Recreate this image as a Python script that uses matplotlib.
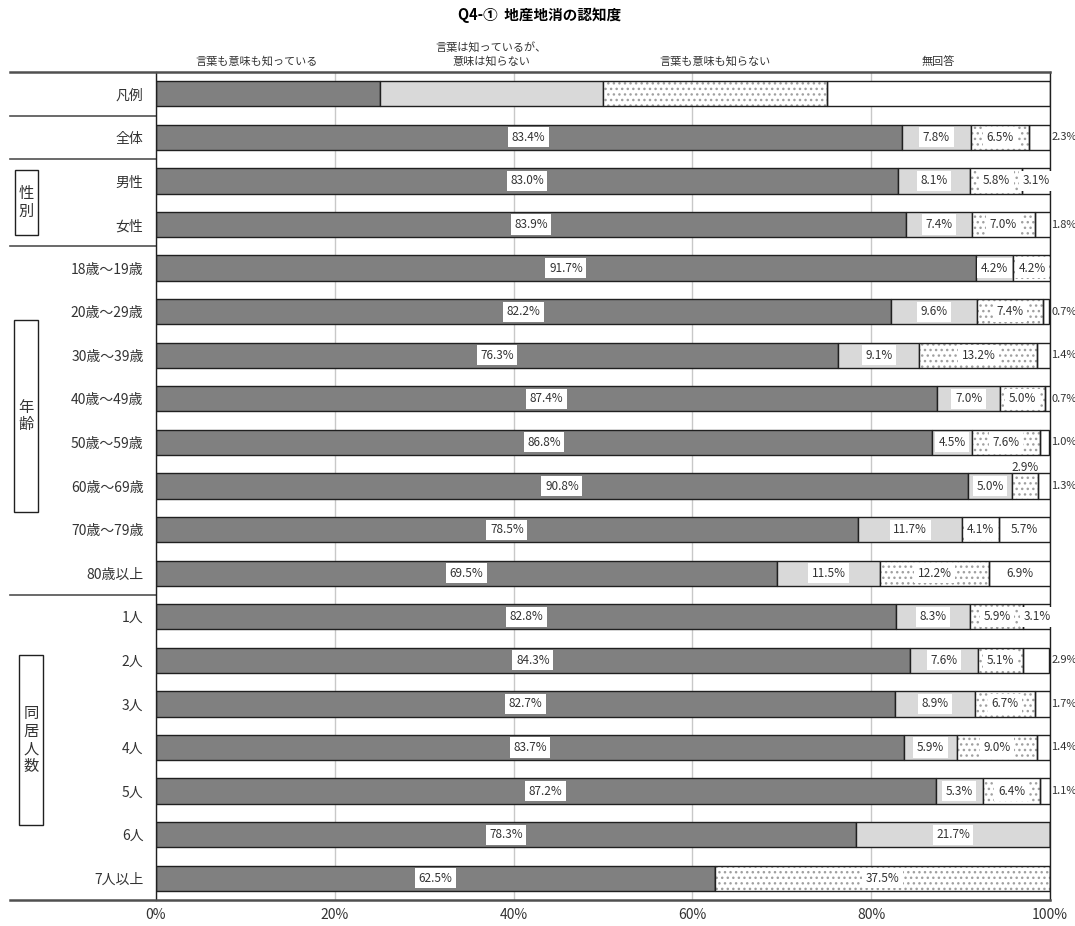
import matplotlib.pyplot as plt
from matplotlib.patches import Rectangle
from matplotlib.transforms import blended_transform_factory

plt.rcParams['font.family'] = ['Noto Sans CJK JP', 'DejaVu Sans']
plt.rcParams['hatch.linewidth'] = 1.0

# Data (row 0 is the legend sample bar)
categories = ['凡例', '全体', '男性', '女性',
              '18歳～19歳', '20歳～29歳', '30歳～39歳', '40歳～49歳',
              '50歳～59歳', '60歳～69歳', '70歳～79歳', '80歳以上',
              '1人', '2人', '3人', '4人', '5人', '6人', '7人以上']
know_both = [25, 83.4, 83.0, 83.9, 91.7, 82.2, 76.3, 87.4, 86.8, 90.8, 78.5, 69.5,
             82.8, 84.3, 82.7, 83.7, 87.2, 78.3, 62.5]
know_word = [25, 7.8, 8.1, 7.4, 4.2, 9.6, 9.1, 7.0, 4.5, 5.0, 11.7, 11.5,
             8.3, 7.6, 8.9, 5.9, 5.3, 21.7, 0]
know_none = [25, 6.5, 5.8, 7.0, 4.2, 7.4, 13.2, 5.0, 7.6, 2.9, 4.1, 12.2,
             5.9, 5.1, 6.7, 9.0, 6.4, 0, 37.5]
no_answer = [25, 2.3, 3.1, 1.8, 0, 0.7, 1.4, 0.7, 1.0, 1.3, 5.7, 6.9,
             3.1, 2.9, 1.7, 1.4, 1.1, 0, 0]
series_names = ['言葉も意味も知っている', '言葉は知っているが、\n意味は知らない',
                '言葉も意味も知らない', '無回答']
groups = ['性\n別', '年\n齢', '同\n居\n人\n数']

W, H = 1075, 926
fig = plt.figure(figsize=(W / 100, H / 100), dpi=100)
ax = fig.add_axes([156 / W, 26 / H, 894 / W, 828 / H])

rows = list(range(len(categories)))
series = [know_both, know_word, know_none, no_answer]
fills = ['#808080', '#d9d9d9', 'white', 'white']
bar_h = 0.58

left = [0.0] * len(rows)
for j, vals in enumerate(series):
    if j == 2:
        # dotted pattern first, then the black outline on top
        ax.barh(rows, vals, left=left, height=bar_h, color='white',
                hatch='...', edgecolor='#a0a0a0', linewidth=0, zorder=2)
        ax.barh(rows, vals, left=left, height=bar_h, fill=False,
                edgecolor='#202020', linewidth=1, zorder=3)
    else:
        ax.barh(rows, vals, left=left, height=bar_h, color=fills[j],
                edgecolor='#202020', linewidth=1, zorder=2)

    for i in rows[1:]:
        v = vals[i]
        if v <= 0:
            continue
        cx = left[i] + v / 2
        if j == 3 and v < 3:
            ax.text(100.15, i, f'{v:.1f}%', ha='left', va='center',
                    fontsize=8, color='#333333', clip_on=False, zorder=5)
        elif v < 3:
            ax.text(cx, i - bar_h / 2 + 0.02, f'{v:.1f}%', ha='center',
                    va='bottom', fontsize=8.5, color='#333333', zorder=5)
        else:
            ax.text(cx, i, f'{v:.1f}%', ha='center', va='center',
                    fontsize=8.5, color='#333333', zorder=5,
                    bbox=dict(boxstyle='square,pad=0.3', fc='white', ec='none'))
    left = [a + b for a, b in zip(left, vals)]

ax.set_xlim(0, 100)
ax.set_ylim(len(rows) - 0.5, -0.5)
ax.set_yticks(rows)
ax.set_yticklabels(categories, fontsize=10, color='#333333')
ax.set_xticks([0, 20, 40, 60, 80, 100])
ax.set_xticklabels(['0%', '20%', '40%', '60%', '80%', '100%'],
                   fontsize=10, color='#333333')
ax.tick_params(axis='y', length=0, pad=9)
ax.tick_params(axis='x', length=0, pad=6)
ax.grid(axis='x', color='#c8c8c8', linewidth=1, zorder=0)
ax.set_axisbelow(True)

for s in ['top', 'bottom']:
    ax.spines[s].set_visible(False)
for s in ['left', 'right']:
    ax.spines[s].set_color('#202020')
    ax.spines[s].set_linewidth(1)

# header lines and group separators that run into the label area
tr = blended_transform_factory(fig.transFigure, ax.transData)
for y in [-0.5, len(rows) - 0.5]:
    ax.plot([10 / W, 1050 / W], [y, y], transform=tr, color='#505050',
            linewidth=1.8, clip_on=False, zorder=6)
for y in [0.5, 1.5, 3.5, 11.5]:
    ax.plot([10 / W, 156 / W], [y, y], transform=tr, color='#505050',
            linewidth=1.2, clip_on=False)

# group boxes (left, top, right, bottom in pixels)
boxes = [(15, 170, 38, 235), (14, 320, 38, 512), (19, 655, 43, 825)]
for (x0, y0, x1, y1), label in zip(boxes, groups):
    fig.add_artist(Rectangle((x0 / W, 1 - y1 / H), (x1 - x0) / W, (y1 - y0) / H,
                             transform=fig.transFigure, fill=False,
                             edgecolor='#202020', linewidth=1))
    fig.text((x0 + x1) / 2 / W, 1 - (y0 + y1) / 2 / H, label, ha='center',
             va='center', fontsize=11, linespacing=1.05, color='#333333')

# series names above the legend bar
for x, name in zip([11.3, 37.5, 62.5, 87.5], series_names):
    ax.text(x, -0.62, name, ha='center', va='bottom', fontsize=8,
            color='#333333', linespacing=1.3, clip_on=False)

fig.text(540 / W, 1 - 15 / H, 'Q4-①  地産地消の認知度', ha='center', va='center',
         fontsize=10.5, fontweight='bold')

fig.savefig('out.png', dpi=100)
